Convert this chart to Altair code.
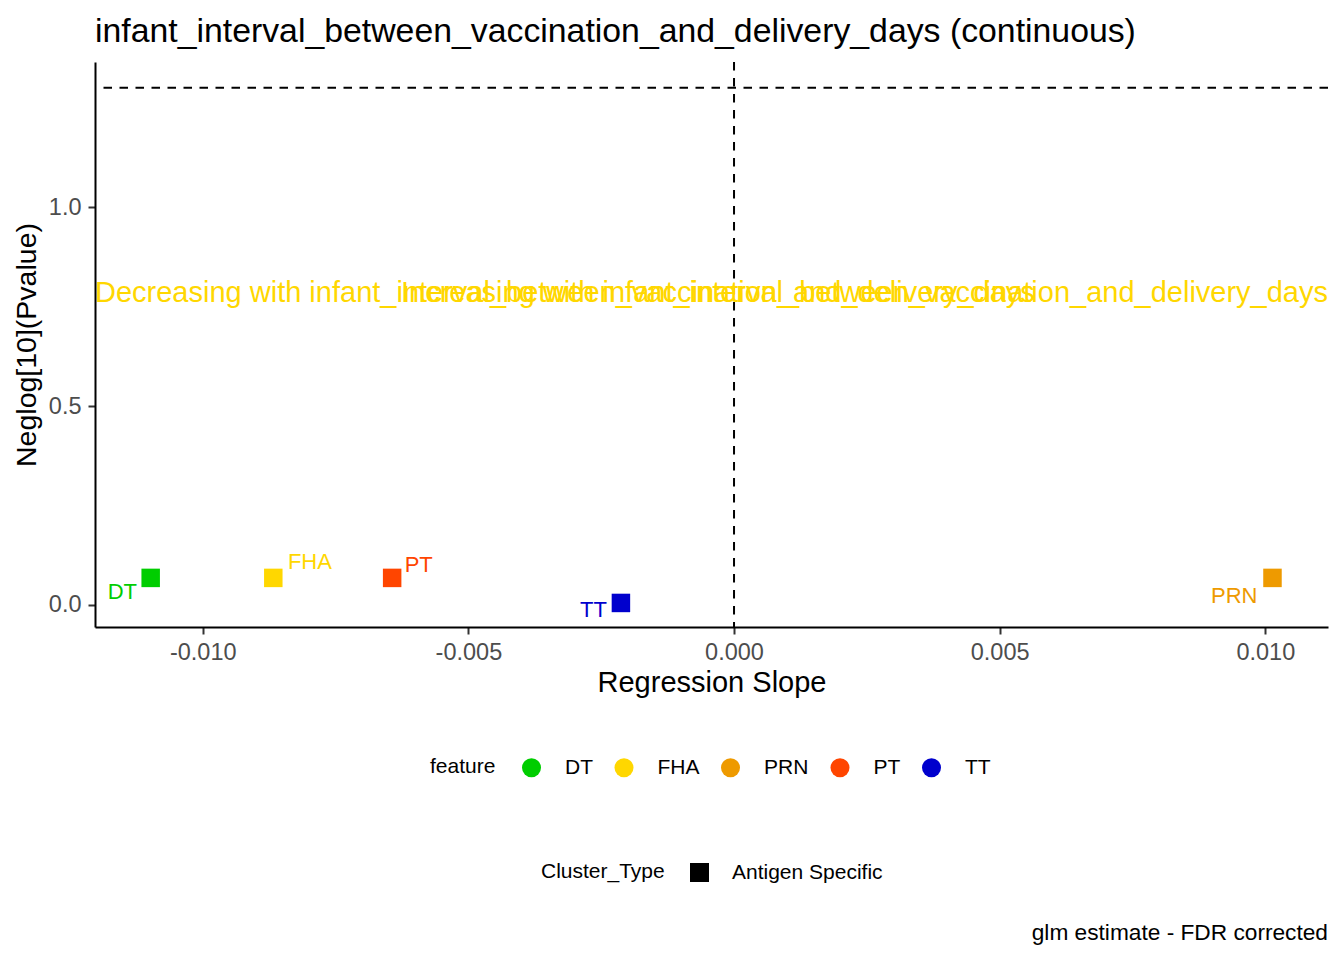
import altair as alt
import pandas as pd

# ---- data ----
features = ["DT", "FHA", "PRN", "PT", "TT"]
slope = [-0.01098, -0.008672, 0.010135, -0.006435, -0.002129]
neglog_p = [0.068, 0.068, 0.068, 0.068, 0.005]
cluster_type = ["Antigen Specific"] * 5
label_x = [-0.011513, -0.007983, 0.009415, -0.005935, -0.002647]
label_y = [0.0332, 0.1079, 0.0226, 0.0996, -0.0138]
colors = ["#00CD00", "#FFD700", "#EE9A00", "#FF4500", "#0000CD"]

sig_line = 1.30103  # -log10(0.05)
annot_y = 0.785
title_text = "infant_interval_between_vaccination_and_delivery_days (continuous)"
dec_text = "Decreasing with infant_interval_between_vaccination_and_delivery_days"
inc_text = "Increasing with infant_interval_between_vaccination_and_delivery_days"
caption = "glm estimate - FDR corrected"

x_domain = [-0.012028, 0.01118]
y_domain = [-0.0555, 1.3655]

FONT = "Liberation Sans"
W, H = 1233, 565

df = pd.DataFrame({
    "feature": features,
    "slope": slope,
    "neglog_p": neglog_p,
    "Cluster_Type": cluster_type,
    "label_x": label_x,
    "label_y": label_y,
})

xscale = alt.Scale(domain=x_domain, nice=False, zero=False)
yscale = alt.Scale(domain=y_domain, nice=False, zero=False)
cscale = alt.Scale(domain=features, range=colors)

color_legend = alt.Legend(
    orient="none", legendX=335, legendY=695, direction="horizontal",
    title="feature", titleOrient="left", titleFontSize=21, titleFont=FONT,
    titleFontWeight="normal", titleColor="black", titlePadding=25,
    titleBaseline="middle", titleAnchor="middle",
    labelFontSize=21, labelFont=FONT, labelColor="black", labelOffset=23,
    symbolType="circle", symbolSize=361, symbolStrokeWidth=0,
    columnPadding=20.5, padding=0,
)
shape_legend = alt.Legend(
    orient="none", legendX=446, legendY=800, direction="horizontal",
    title="Cluster_Type", titleOrient="left", titleFontSize=21, titleFont=FONT,
    titleFontWeight="normal", titleColor="black", titlePadding=24,
    titleBaseline="middle", titleAnchor="middle",
    labelFontSize=21, labelFont=FONT, labelColor="black", labelOffset=22,
    symbolSize=361, symbolFillColor="black", symbolStrokeWidth=0, padding=0,
)

x_axis = alt.Axis(
    title="Regression Slope", values=[-0.01, -0.005, 0.0, 0.005, 0.01],
    labelExpr="datum.value < 0 ? '-' + format(-datum.value, '.3f') : format(datum.value, '.3f')",
    grid=False, domainColor="black", domainWidth=2, tickColor="#333333",
    tickWidth=2, tickSize=7, labelFontSize=23.5, labelColor="#4D4D4D",
    labelFont=FONT, labelPadding=6, titleFontSize=29, titleFont=FONT,
    titleFontWeight="normal", titleColor="black", titlePadding=5,
)
y_axis = alt.Axis(
    title="Neglog[10](Pvalue)", values=[0.0, 0.5, 1.0], format=".1f",
    grid=False, domainColor="black", domainWidth=2, tickColor="#333333",
    tickWidth=2, tickSize=7, labelFontSize=23.5, labelColor="#4D4D4D",
    labelFont=FONT, labelPadding=7, titleFontSize=28.5, titleFont=FONT,
    titleFontWeight="normal", titleColor="black", titlePadding=7,
)

base = alt.Chart(df)

points = base.mark_point(filled=True, size=342, opacity=1, strokeWidth=0).encode(
    x=alt.X("slope:Q", scale=xscale, axis=x_axis),
    y=alt.Y("neglog_p:Q", scale=yscale, axis=y_axis),
    color=alt.Color("feature:N", scale=cscale, legend=color_legend),
    shape=alt.Shape("Cluster_Type:N",
                    scale=alt.Scale(domain=["Antigen Specific"], range=["square"]),
                    legend=shape_legend),
)

labels = base.mark_text(fontSize=22, font=FONT, baseline="middle", align="center").encode(
    x=alt.X("label_x:Q", scale=xscale),
    y=alt.Y("label_y:Q", scale=yscale),
    text="feature:N",
    color=alt.Color("feature:N", scale=cscale, legend=color_legend),
)

hline = alt.Chart(pd.DataFrame({"y": [sig_line]})).mark_rule(
    color="black", strokeDash=[8.5, 7.5], strokeWidth=2
).encode(y=alt.Y("y:Q", scale=yscale))

vline = alt.Chart(pd.DataFrame({"x": [0.0]})).mark_rule(
    color="black", strokeDash=[8.5, 7.5], strokeWidth=2
).encode(x=alt.X("x:Q", scale=xscale))

ann_df = pd.DataFrame({"y": [annot_y], "dec": [dec_text], "inc": [inc_text]})
dec = alt.Chart(ann_df).mark_text(
    fontSize=29, font=FONT, color="#FFD700", align="left", baseline="middle"
).encode(x=alt.value(0), y=alt.Y("y:Q", scale=yscale), text="dec:N")
inc = alt.Chart(ann_df).mark_text(
    fontSize=29, font=FONT, color="#FFD700", align="right", baseline="middle"
).encode(x=alt.value(W), y=alt.Y("y:Q", scale=yscale), text="inc:N")

cap = alt.Chart(pd.DataFrame({"t": [caption]})).mark_text(
    fontSize=22.7, font=FONT, color="black", align="right", baseline="middle"
).encode(x=alt.value(W), y=alt.value(871), text="t:N")

chart = alt.layer(hline, vline, dec, inc, points, labels, cap).properties(
    width=W, height=H,
    title=alt.TitleParams(title_text, anchor="start", frame="group", fontSize=33.8,
                          font=FONT, fontWeight="normal", color="black", offset=12),
    autosize=alt.AutoSizeParams(type="none"),
    padding={"left": 87, "top": 54, "right": 8, "bottom": 325},
).configure_view(stroke=None).resolve_scale(color="shared")

chart.save("out.html", embed_options={"renderer": "svg", "actions": False})
